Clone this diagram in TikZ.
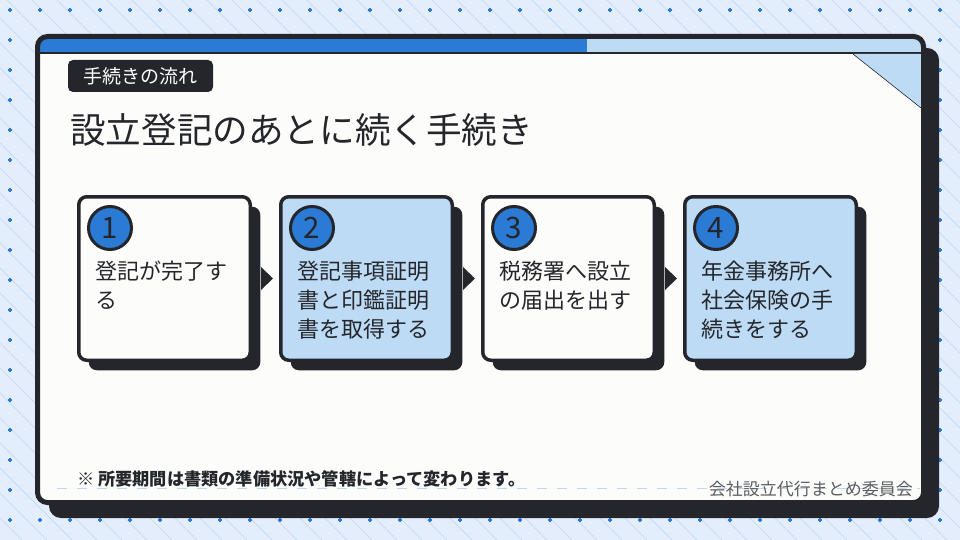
\documentclass[tikz,border=0pt]{standalone}
\usepackage{fontspec}
\setmainfont{Noto Sans CJK JP}
\usetikzlibrary{positioning,calc,shadows}

\definecolor{ink}{HTML}{24262B}
\definecolor{bgblue}{HTML}{E3EDFC}
\definecolor{lineblue}{HTML}{BCD8F3}
\definecolor{midblue}{HTML}{2B7BD4}
\definecolor{paleblue}{HTML}{BDDBF4}
\definecolor{paper}{HTML}{FCFDFB}

\tikzset{
  stepbox/.style={draw=ink, line width=3.5pt, rounded corners=8pt,
    minimum width=171.5pt, minimum height=163.5pt, inner sep=0pt,
    drop shadow={shadow xshift=10pt, shadow yshift=-10pt, fill=ink, opacity=1}},
  numdot/.style={circle, draw=ink, line width=3pt, fill=midblue, text=ink,
    minimum size=43pt, inner sep=0pt, font=\fontsize{29.5}{29.5}\selectfont},
  steptext/.style={anchor=north west, align=left, inner sep=0pt, text=ink,
    font=\fontsize{22}{29}\selectfont},
  pointer/.style={fill=ink}
}

\begin{document}
\begin{tikzpicture}[x=1pt,y=-1pt]
		\useasboundingbox (0,0) rectangle (960,540);
		% background
		\fill[bgblue] (0,0) rectangle (960,540);
		\begin{scope}
		\clip (0,0) rectangle (960,540);
		\foreach \k in {-22,...,38}
			\draw[lineblue, line width=0.6pt] ({7+25*\k},0) -- ++(540,540);
		\end{scope}
		\foreach \x in {10,40,...,940}
			\foreach \y in {10,40,...,520}
				\draw[midblue, line width=1.5pt] (\x-2.2,\y) -- (\x+2.2,\y) (\x,\y-2.2) -- (\x,\y+2.2);

		% card
		\fill[ink, rounded corners=12pt] (49,48) rectangle (939,518);
		\fill[paper, rounded corners=10pt] (37.5,36.5) rectangle (923.5,502.5);
		\fill[midblue] (40,39) rectangle (587,52);
		\fill[paleblue] (587,39) rectangle (921,52);
		\draw[ink, line width=2pt] (40,53) -- (921,53);
		\fill[paleblue] (853,54) -- (921,54) -- (921,108) -- cycle;
		\draw[ink, line width=0.6pt] (853,54) -- (921,108);
		\draw[ink, line width=5pt, rounded corners=10pt] (37.5,36.5) rectangle (923.5,502.5);

		% headings
		\node[fill=ink, rounded corners=5pt, text=white, minimum width=145pt, minimum height=32pt,
			inner sep=0pt, font=\fontsize{19}{19}\selectfont] (tag) at (140.5,76) {手続きの流れ};
		\node[anchor=west, inner sep=0pt, text=ink, font=\fontsize{35.6}{35.6}\selectfont] (title) at (70,130) {設立登記のあとに続く手続き};

		% steps
		\node[stepbox, fill=paper] (s1) at (164.5,278.5) {};
		\node[stepbox, fill=paleblue, right=27pt of s1] (s2) {};
		\node[stepbox, fill=paper, right=27pt of s2] (s3) {};
		\node[stepbox, fill=paleblue, right=27pt of s3] (s4) {};

		\foreach \i/\j in {1/2,2/3,3/4}
			\fill[pointer] ($(s\i.east)+(9,-11.5)$) -- ++(12,11.5) -- ++(-12,11.5) -- cycle;

		\foreach \i in {1,...,4}
			\node[numdot] (n\i) at ($(s\i.north west)+(33,33)$) {\i};

		\node[steptext] (t1) at ($(s1.north west)+(18,66)$) {登記が完了す\\る};
		\node[steptext] (t2) at ($(s2.north west)+(18,66)$) {登記事項証明\\書と印鑑証明\\書を取得する};
		\node[steptext] (t3) at ($(s3.north west)+(18,66)$) {税務署へ設立\\の届出を出す};
		\node[steptext] (t4) at ($(s4.north west)+(18,66)$) {年金事務所へ\\社会保険の手\\続きをする};

		% footer
		\draw[lineblue, line width=1pt, dash pattern=on 10pt off 10pt] (57,488) -- (920,488);
		\node[anchor=west, inner sep=0pt, text=ink, font=\fontsize{17.2}{17.2}\selectfont\bfseries] (note) at (77,479)
			{※ 所要期間は書類の準備状況や管轄によって変わります。};
		\node[anchor=east, inner sep=0pt, text=ink!75, font=\fontsize{17}{17}\selectfont] (brand) at (913,489)
			{会社設立代行まとめ委員会};
	\end{tikzpicture}
\end{document}
